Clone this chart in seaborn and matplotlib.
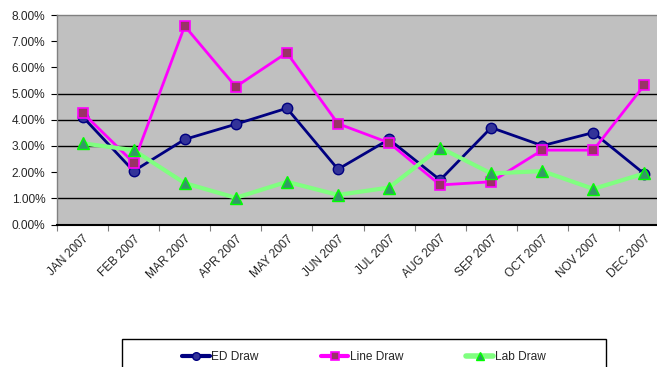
import matplotlib
matplotlib.use("Agg")
import matplotlib.pyplot as plt
from matplotlib.patches import Rectangle
from matplotlib.ticker import FuncFormatter, FixedLocator
from matplotlib.transforms import ScaledTranslation
import numpy as np
import pandas as pd
import seaborn as sns

months = ["JAN 2007", "FEB 2007", "MAR 2007", "APR 2007", "MAY 2007", "JUN 2007",
          "JUL 2007", "AUG 2007", "SEP 2007", "OCT 2007", "NOV 2007", "DEC 2007"]
ed_draw = [4.12, 2.04, 3.25, 3.83, 4.44, 2.11, 3.25, 1.70, 3.70, 3.01, 3.51, 1.93]
line_draw = [4.27, 2.36, 7.58, 5.26, 6.56, 3.85, 3.12, 1.51, 1.63, 2.84, 2.84, 5.33]
lab_draw = [3.10, 2.84, 1.58, 1.02, 1.63, 1.13, 1.41, 2.93, 1.95, 2.04, 1.36, 1.95]
grid_levels = [1, 3, 4, 5]

sns.set_style("white")
plt.rcParams["font.family"] = ["Liberation Sans", "DejaVu Sans"]

fig = plt.figure(figsize=(6.57, 3.67), dpi=100)
W, H = 657, 367
left, right, top, bottom = 57, 670, 15, 224.5
ax = fig.add_axes([left / W, (H - bottom) / H, (right - left) / W, (bottom - top) / H])
ax.set_facecolor("#C0C0C0")

df = pd.DataFrame({"pos": np.arange(len(months)), "ED Draw": ed_draw,
                   "Line Draw": line_draw, "Lab Draw": lab_draw})

styles = {
    "ED Draw": dict(color="#000080", lw=2.0, marker="o", ms=7.5,
                    mfc="#333399", mec="#000080", mew=1.0),
    "Line Draw": dict(color="#FF00FF", lw=2.0, marker="s", ms=7.5,
                      mfc="#993366", mec="#FF00FF", mew=1.2),
    "Lab Draw": dict(color="#80FF80", lw=3.0, marker="^", ms=8,
                     mfc="#339966", mec="#00FF00", mew=1.0),
}
for lv in grid_levels:
    ax.axhline(lv, color="black", lw=1.0, zorder=1)

handles = []
for name, st in styles.items():
    sns.lineplot(data=df, x="pos", y=name, ax=ax, color=st["color"], linewidth=st["lw"],
                 marker=st["marker"], markersize=st["ms"], markerfacecolor=st["mfc"],
                 markeredgecolor=st["mec"], markeredgewidth=st["mew"], zorder=3,
                 legend=False)
    handles.append(plt.Line2D([], [], color=st["color"], lw=st["lw"] + 1, marker=st["marker"],
                              ms=st["ms"] - 2, mfc=st["mfc"], mec=st["mec"],
                              mew=st["mew"], label=name))

ax.set_xlim(-0.5, len(months) - 0.5)
ax.set_ylim(0, 8)
ax.set_xlabel("")
ax.set_ylabel("")

ax.set_xticks(np.arange(len(months)))
ax.set_xticklabels(months, rotation=45, ha="right", rotation_mode="anchor", fontsize=8.6)
shift = ScaledTranslation(-5 / 100, -2 / 100, fig.dpi_scale_trans)
for lbl in ax.get_xticklabels():
    lbl.set_transform(lbl.get_transform() + shift)
ax.xaxis.set_minor_locator(FixedLocator(np.arange(-0.5, len(months), 1.0)))
ax.tick_params(axis="x", which="major", length=0, pad=6)
ax.tick_params(axis="x", which="minor", length=4, width=0.8, color="#808080", bottom=True)

ax.set_yticks(np.arange(0, 9, 1))
ax.yaxis.set_major_formatter(FuncFormatter(lambda v, p: f"{v:.2f}%"))
ax.tick_params(axis="y", length=4, width=0.8, color="black", labelsize=8.6, pad=4.5, left=True)

for side in ["left", "top"]:
    ax.spines[side].set_color("#808080")
    ax.spines[side].set_linewidth(1.0)
ax.spines["bottom"].set_color("black")
ax.spines["bottom"].set_linewidth(1.5)
ax.spines["right"].set_visible(False)

# legend box at the bottom
fig.patches.append(Rectangle((122 / W, (H - 380) / H), (606 - 122) / W, (380 - 339) / H,
                             transform=fig.transFigure, facecolor="white",
                             edgecolor="black", lw=1.0, zorder=0))
fig.legend(handles=handles, loc="center", bbox_to_anchor=(364 / W, (H - 357.5) / H),
           ncol=3, frameon=False, fontsize=8.6, handlelength=2.3, handletextpad=0.15,
           columnspacing=5.2)

fig.savefig("out.png", dpi=100)
